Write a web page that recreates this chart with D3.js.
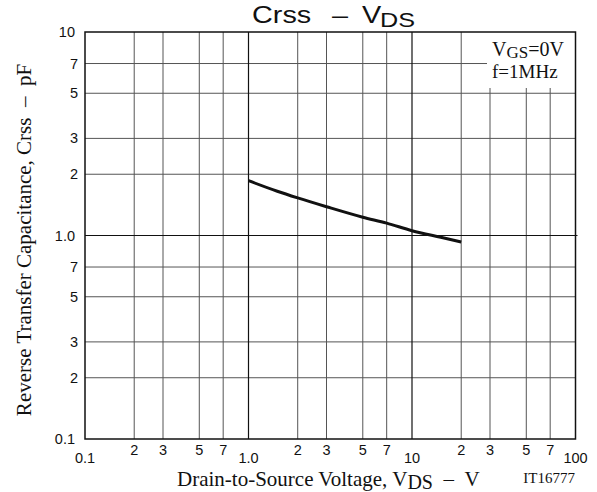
<!DOCTYPE html>
<html>
<head>
<meta charset="utf-8">
<script src="https://cdn.jsdelivr.net/npm/d3@7"></script>
<style>
  html, body { margin: 0; padding: 0; background: #fff; }
  svg { display: block; }
</style>
</head>
<body>
<svg id="chart" width="597" height="492"></svg>
<script>
// curve
const VDS  = [1.0, 1.5, 2, 3, 5, 7, 10, 15, 20];
const CRSS = [1.86, 1.65, 1.53, 1.385, 1.23, 1.15, 1.056, 0.98, 0.93];

const X_DOMAIN = [0.1, 100];
const Y_DOMAIN = [0.1, 10];
const MINOR = [2, 3, 5, 7];
const X_MAJOR = [0.1, 1, 10, 100];
const X_MAJOR_LABELS = ['0.1', '1.0', '10', '100'];
const Y_MAJOR = [0.1, 1, 10];
const Y_MAJOR_LABELS = ['0.1', '1.0', '10'];

const L = 85, R = 575.5, T = 32, B = 439;
const SANS = 'Liberation Sans, Arial, sans-serif';
const SERIF = 'Liberation Serif, Times New Roman, serif';

const svg = d3.select('#chart');
const x = d3.scaleLog().domain(X_DOMAIN).range([L, R]);
const y = d3.scaleLog().domain(Y_DOMAIN).range([B, T]);

// minor values in each decade
const xMinor = [], yMinor = [];
for (const d of [0.1, 1, 10]) {
  MINOR.forEach(m => xMinor.push(d * m));
}
for (const d of [0.1, 1]) {
  MINOR.forEach(m => yMinor.push(d * m));
}
const lead = d => String(Math.round(d / Math.pow(10, Math.floor(Math.log10(d) + 1e-9))));

// --- grid ---
const gGrid = svg.append('g');
gGrid.selectAll('line.vx').data(xMinor).enter().append('line')
  .attr('x1', d => x(d)).attr('x2', d => x(d))
  .attr('y1', T).attr('y2', B)
  .attr('stroke', '#555').attr('stroke-width', 1);
gGrid.selectAll('line.hy').data(yMinor).enter().append('line')
  .attr('y1', d => y(d)).attr('y2', d => y(d))
  .attr('x1', L).attr('x2', R)
  .attr('stroke', '#555').attr('stroke-width', 1);
gGrid.selectAll('line.vM').data(X_MAJOR.slice(1, 3)).enter().append('line')
  .attr('x1', d => x(d)).attr('x2', d => x(d))
  .attr('y1', T).attr('y2', B)
  .attr('stroke', '#111').attr('stroke-width', 1.2);
gGrid.selectAll('line.hM').data([1]).enter().append('line')
  .attr('y1', d => y(d)).attr('y2', d => y(d))
  .attr('x1', L).attr('x2', R + 2)
  .attr('stroke', '#111').attr('stroke-width', 1.2);

// --- legend box (covers grid) ---
svg.append('rect')
  .attr('x', 487).attr('y', T).attr('width', R - 487).attr('height', 56)
  .attr('fill', '#fff');
const leg1 = svg.append('text')
  .attr('x', 492).attr('y', 56)
  .attr('font-family', SERIF).attr('font-size', 20).attr('fill', '#111');
leg1.append('tspan').text('V');
leg1.append('tspan').attr('dy', 2).attr('font-size', 17).text('GS');
leg1.append('tspan').attr('dy', -2).text('=0V');
svg.append('text')
  .attr('x', 492).attr('y', 78)
  .attr('font-family', SERIF).attr('font-size', 19).attr('fill', '#111')
  .text('f=1MHz');

// --- frame ---
svg.append('rect')
  .attr('x', L).attr('y', T).attr('width', R - L).attr('height', B - T)
  .attr('fill', 'none').attr('stroke', '#111').attr('stroke-width', 1.5);

// --- curve ---
const line = d3.line().x(d => x(d[0])).y(d => y(d[1])).curve(d3.curveMonotoneX);
svg.append('path')
  .attr('d', line(VDS.map((v, i) => [v, CRSS[i]])))
  .attr('fill', 'none').attr('stroke', '#111').attr('stroke-width', 3)
  .attr('stroke-linecap', 'butt');

// --- y tick labels ---
const gy = svg.append('g')
  .attr('font-family', SANS).attr('font-size', 14.5).attr('fill', '#111')
  .attr('text-anchor', 'end');
gy.selectAll('text.mi').data(yMinor).enter().append('text')
  .attr('x', 78).attr('y', d => y(d) + 5)
  .text(lead);
gy.selectAll('text.ma').data(Y_MAJOR).enter().append('text')
  .attr('x', 75).attr('y', d => y(d) + 5)
  .text((d, i) => Y_MAJOR_LABELS[i]);

// --- x tick labels ---
const gx = svg.append('g')
  .attr('font-family', SANS).attr('font-size', 14.5).attr('fill', '#111')
  .attr('text-anchor', 'middle');
gx.selectAll('text.mi').data(xMinor).enter().append('text')
  .attr('x', d => x(d)).attr('y', 455)
  .text(lead);
gx.selectAll('text.ma').data(X_MAJOR).enter().append('text')
  .attr('x', d => x(d)).attr('y', 463)
  .text((d, i) => X_MAJOR_LABELS[i]);

// --- title ---
const title = svg.append('text')
  .attr('transform', 'translate(252,23) scale(1.2,1)')
  .attr('font-family', SANS).attr('font-size', 24).attr('fill', '#111');
title.append('tspan').attr('x', 0).text('Crss');
title.append('tspan').attr('x', 66.7).text('\u2013');
title.append('tspan').attr('x', 91.7).text('V');
title.append('tspan').attr('x', 106.7).attr('dy', 4).attr('font-size', 21).text('DS');

// --- axis titles ---
const xt = svg.append('text')
  .attr('x', 177).attr('y', 486)
  .attr('font-family', SERIF).attr('font-size', 21).attr('fill', '#111');
xt.append('tspan').text('Drain-to-Source Voltage, V');
xt.append('tspan').attr('dy', 3).attr('font-size', 20).text('DS');
xt.append('tspan').attr('dy', -3).text('\u2002\u2013\u2002V');

svg.append('text')
  .attr('x', 575).attr('y', 483).attr('text-anchor', 'end')
  .attr('font-family', SERIF).attr('font-size', 15).attr('fill', '#111')
  .text('IT16777');

svg.append('text')
  .attr('transform', 'translate(31,240) rotate(-90)')
  .attr('text-anchor', 'middle')
  .attr('font-family', SERIF).attr('font-size', 21).attr('fill', '#111')
  .text('Reverse Transfer Capacitance, Crss\u2002\u2013\u2002pF');
</script>
</body>
</html>
